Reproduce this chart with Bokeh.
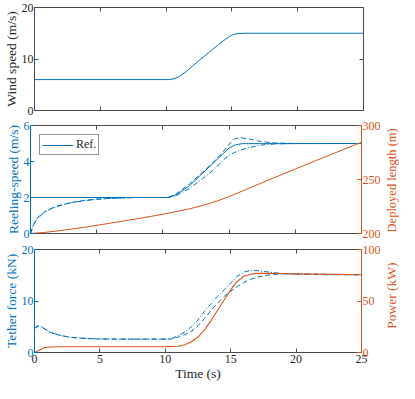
import math
from bokeh.plotting import figure
from bokeh.layouts import column, row
from bokeh.models import Range1d, LinearAxis, FixedTicker, CustomLabelingPolicy, Label
from bokeh.embed import file_html
from bokeh.resources import INLINE

# ---------------- data ----------------
x_ticks = [0, 5, 10, 15, 20, 25]

t_wind = [0, 10.2, 10.6, 11.0, 11.5, 12.0, 12.5, 13.0, 13.5, 14.0, 14.5, 14.8, 15.1, 15.5, 16.0, 25]
wind = [6, 6, 6.15, 6.6, 7.5, 8.6, 9.7, 10.75, 11.8, 12.85, 13.8, 14.35, 14.75, 14.95, 15, 15]

t_ref = [0, 10.4, 11, 12, 13, 14, 14.5, 15, 15.5, 16, 25]
ref_speed = [2, 2, 2.15, 2.65, 3.35, 4.05, 4.4, 4.75, 4.93, 4.99, 5]

t_speed = [0, 0.2, 0.5, 1, 1.5, 2, 3, 4, 5, 6, 7, 8, 10.4, 11, 12, 13, 14, 14.5, 15, 15.4, 15.8, 16.5, 17.5, 18.5, 20, 25]
speed_dashed = [0, 0.45, 0.85, 1.17, 1.37, 1.52, 1.71, 1.83, 1.91, 1.95, 1.98, 2.0, 2.0, 2.2, 2.75, 3.4, 4.1, 4.5, 4.95, 5.25, 5.33, 5.25, 5.1, 5.03, 5.0, 5.0]
speed_dashdot = [0, 0.42, 0.82, 1.14, 1.35, 1.5, 1.7, 1.82, 1.9, 1.95, 1.98, 2.0, 2.0, 2.1, 2.5, 3.05, 3.65, 4.05, 4.35, 4.5, 4.62, 4.78, 4.92, 4.98, 5.0, 5.0]

t_len = [0, 1, 2, 4, 6, 8, 10, 11, 12, 13, 14, 15, 16, 17, 18, 20, 22, 25]
deployed_length = [200, 200.9, 202.3, 205.6, 209.5, 213.5, 217.8, 220.3, 222.8, 225.9, 229.7, 234.2, 239.3, 244.5, 249.6, 259.7, 269.7, 284.5]

t_force = [0, 0.3, 0.6, 1.2, 2, 2.7, 3.5, 4.6, 6, 8, 10.4, 11, 11.5, 12, 12.5, 13, 13.5, 14, 14.5, 15, 15.5, 16, 16.5, 17, 18, 19, 20, 22, 25]
force_dashdot = [4.8, 5.2, 4.9, 3.9, 3.3, 2.96, 2.8, 2.65, 2.6, 2.6, 2.6, 3.3, 4.0, 5.0, 6.3, 8.0, 9.5, 10.9, 12.2, 13.5, 14.8, 15.6, 15.95, 15.9, 15.6, 15.3, 15.2, 15.1, 15.1]
force_dashed = [4.7, 5.1, 4.85, 3.9, 3.3, 2.96, 2.8, 2.65, 2.6, 2.6, 2.6, 3.0, 3.5, 4.1, 5.2, 6.6, 8.2, 9.6, 10.9, 11.9, 12.8, 13.6, 14.2, 14.6, 15.1, 15.3, 15.3, 15.2, 15.1]

t_power = [0, 0.2, 0.4, 0.75, 1.2, 2, 5, 10, 11, 11.5, 12, 12.5, 13, 13.5, 14, 14.5, 15, 15.5, 16, 16.5, 17, 18, 20, 25]
power = [0, 1.2, 2.5, 4.6, 5.3, 5.6, 5.6, 5.7, 6.0, 7.5, 10.5, 15, 22, 31, 41, 51, 61, 69, 74, 76, 76.8, 77, 76.3, 75.5]

# ---------------- styling ----------------
BLUE = "#0072BD"
ORANGE = "#D95319"
DARK = "#262626"
BOX = "#4a4a4a"
FONT = "'Liberation Serif', 'DejaVu Serif', serif"
TICK_SIZE = "12px"
LABEL_SIZE = "13.5px"
SIDE = 16
W = 399 - SIDE
LB, RB = 30, 20

NO_LABELS = CustomLabelingPolicy(code="return []")


def style_axis(ax, color, ticks, labels=True, label_color=None):
    ax.ticker = FixedTicker(ticks=ticks)
    ax.axis_line_color = color
    ax.axis_line_width = 1
    ax.major_tick_line_color = color
    ax.major_tick_in = 4
    ax.major_tick_out = 0
    ax.minor_tick_line_color = None
    ax.major_label_text_color = label_color or color
    ax.axis_label_text_color = label_color or color
    ax.major_label_text_font = FONT
    ax.axis_label_text_font = FONT
    ax.axis_label_text_font_style = "normal"
    ax.major_label_text_font_size = TICK_SIZE if labels else "1px"
    ax.axis_label_text_font_size = LABEL_SIZE
    ax.major_label_text_line_height = 0.9
    ax.axis_label_text_line_height = 0.9
    ax.major_label_standoff = 1 if labels else 0
    ax.axis_label_standoff = 0
    if not labels:
        ax.major_label_policy = NO_LABELS


def make_fig(height, top, bottom, y_range):
    p = figure(width=W, height=height, x_range=Range1d(0, 25), y_range=y_range,
               output_backend="svg", toolbar_location=None,
               min_border_left=LB, min_border_right=RB,
               min_border_top=top, min_border_bottom=bottom)
    p.grid.visible = False
    p.outline_line_color = None
    p.background_fill_color = "white"
    p.border_fill_color = "white"
    return p


def side_label(height, top, bottom, lo, hi, text, size):
    # narrow companion figure that carries the right-hand axis title,
    # reading bottom-to-top like the reference
    frame_h = height - top - bottom
    span = hi - lo
    s = figure(width=SIDE, height=height, x_range=Range1d(0, 1),
               y_range=Range1d(lo - bottom * span / frame_h, hi + top * span / frame_h),
               output_backend="svg", toolbar_location=None,
               x_axis_location=None, y_axis_location=None,
               min_border_left=0, min_border_right=0, min_border_top=0, min_border_bottom=0)
    s.grid.visible = False
    s.outline_line_color = None
    s.background_fill_color = "white"
    s.border_fill_color = "white"
    s.add_layout(Label(x=0.5, y=(lo + hi) / 2, text=text, angle=math.pi / 2,
                       text_align="center", text_baseline="middle", text_color=ORANGE,
                       text_font=FONT, text_font_size=size))
    return s


H1, T1, B1 = 116, 7, 6
H2, T2, B2 = 124, 9, 7
H3, T3, B3 = 143, 9, 24

# ---- panel 1: wind speed ----
p1 = make_fig(H1, T1, B1, Range1d(0, 20))
p1.line(t_wind, wind, color=BLUE, line_width=1)
style_axis(p1.xaxis[0], BOX, x_ticks, labels=False)
style_axis(p1.yaxis[0], BOX, [0, 10, 20], label_color=DARK)
p1.yaxis[0].axis_label = "Wind speed (m/s)"
top1 = LinearAxis()
style_axis(top1, BOX, x_ticks, labels=False)
p1.add_layout(top1, "above")
right1 = LinearAxis()
style_axis(right1, BOX, [0, 10, 20], labels=False)
p1.add_layout(right1, "right")

# ---- panel 2: reeling speed / deployed length ----
p2 = make_fig(H2, T2, B2, Range1d(0, 6))
p2.extra_y_ranges = {"len": Range1d(200, 300)}
p2.line(t_ref, ref_speed, color=BLUE, line_width=1, legend_label="Ref.")
p2.line(t_speed, speed_dashed, color=BLUE, line_width=1, line_dash="5 3")
p2.line(t_speed, speed_dashdot, color=BLUE, line_width=1, line_dash="5 2 1 2")
p2.line(t_len, deployed_length, color=ORANGE, line_width=1, y_range_name="len")
style_axis(p2.xaxis[0], BOX, x_ticks, labels=False)
style_axis(p2.yaxis[0], BLUE, [0, 2, 4, 6])
p2.yaxis[0].axis_label = "Reeling-speed (m/s)"
top2 = LinearAxis()
style_axis(top2, BOX, x_ticks, labels=False)
p2.add_layout(top2, "above")
right2 = LinearAxis(y_range_name="len")
style_axis(right2, ORANGE, [200, 250, 300])
p2.add_layout(right2, "right")
lg = p2.legend[0]
lg.location = "top_left"
lg.margin = 9
lg.padding = 2
lg.spacing = 0
lg.glyph_width = 31
lg.glyph_height = 10
lg.label_standoff = 3
lg.label_text_font = FONT
lg.label_text_font_size = "12px"
lg.label_text_color = DARK
lg.border_line_color = DARK
lg.border_line_width = 1
lg.background_fill_alpha = 1
s2 = side_label(H2, T2, B2, 200, 300, "Deployed length (m)", "12.5px")

# ---- panel 3: tether force / power ----
p3 = make_fig(H3, T3, B3, Range1d(0, 20))
p3.extra_y_ranges = {"pow": Range1d(0, 100)}
p3.line(t_force, force_dashed, color=BLUE, line_width=1, line_dash="5 3")
p3.line(t_force, force_dashdot, color=BLUE, line_width=1, line_dash="5 2 1 2")
p3.line(t_power, power, color=ORANGE, line_width=1.1, y_range_name="pow")
style_axis(p3.xaxis[0], BOX, x_ticks, label_color=DARK)
p3.xaxis[0].axis_label = "Time (s)"
p3.xaxis[0].major_label_standoff = 2
style_axis(p3.yaxis[0], BLUE, [0, 10, 20])
p3.yaxis[0].axis_label = "Tether force (kN)"
top3 = LinearAxis()
style_axis(top3, BOX, x_ticks, labels=False)
p3.add_layout(top3, "above")
right3 = LinearAxis(y_range_name="pow")
style_axis(right3, ORANGE, [0, 50, 100])
p3.add_layout(right3, "right")
s3 = side_label(H3, T3, B3, 0, 100, "Power (kW)", LABEL_SIZE)

layout = column(p1, row(p2, s2, spacing=0), row(p3, s3, spacing=0), spacing=0)

open("out.html", "w").write(file_html(layout, INLINE))
